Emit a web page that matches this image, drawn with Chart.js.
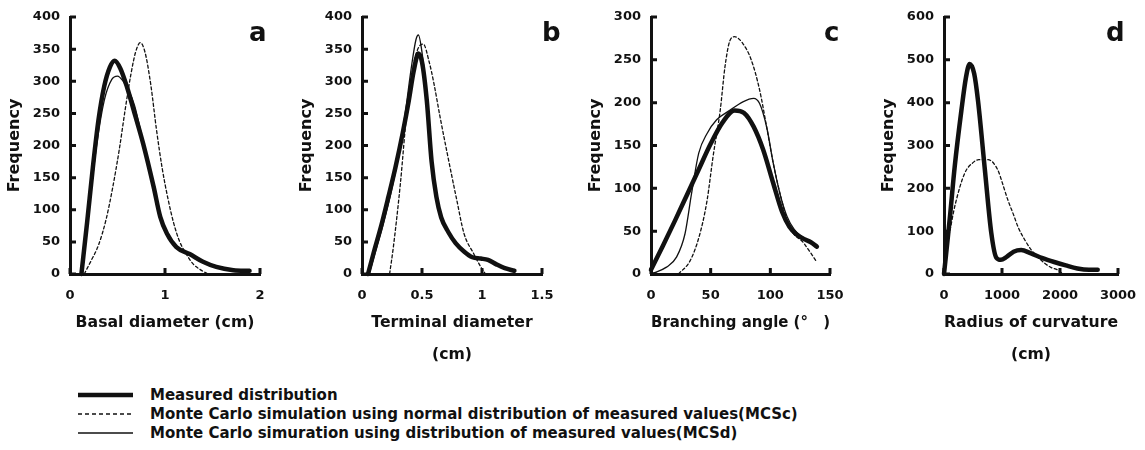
<!DOCTYPE html>
<html>
<head>
<meta charset="utf-8">
<script src="https://cdn.jsdelivr.net/npm/chart.js@4"></script>
<style>
  html, body { margin: 0; padding: 0; background: #fff; }
  #fig { position: relative; width: 1145px; height: 450px; font-family: 'DejaVu Sans', sans-serif; font-weight: bold; color: #111; }
  #fig canvas { position: absolute; top: 0; }
  .tag { position: absolute; top: 19px; font-size: 26px; line-height: 1; }
  .legend { position: absolute; left: 78px; top: 385px; font-size: 15px; }
  .legend div { height: 19px; display: flex; align-items: center; white-space: nowrap; }
  .legend svg { width: 55px; height: 8px; margin-right: 17px; }
</style>
</head>
<body>
<div id="fig">
  <canvas id="panelA" width="280" height="380" style="left:0px"></canvas>
  <canvas id="panelB" width="270" height="380" style="left:292px"></canvas>
  <canvas id="panelC" width="269" height="380" style="left:581px"></canvas>
  <canvas id="panelD" width="264" height="380" style="left:874px"></canvas>

  <div class="tag" style="left:249px">a</div>
  <div class="tag" style="left:542px">b</div>
  <div class="tag" style="left:824px">c</div>
  <div class="tag" style="left:1106px">d</div>

  <div class="legend">
    <div><svg viewBox="0 0 55 8"><line x1="0" y1="4" x2="55" y2="4" stroke="#111" stroke-width="4.5"/></svg>Measured distribution</div>
    <div><svg viewBox="0 0 55 8"><line x1="0" y1="4" x2="55" y2="4" stroke="#111" stroke-width="1.3" stroke-dasharray="4 3"/></svg>Monte Carlo simulation using normal distribution of measured values(MCSc)</div>
    <div><svg viewBox="0 0 55 8"><line x1="0" y1="4" x2="55" y2="4" stroke="#111" stroke-width="1.3"/></svg>Monte Carlo simuration using distribution of measured values(MCSd)</div>
  </div>
</div>

<script>
// frequency curves, [x, frequency]
const basalMeasured = [[0.12,0],[0.18,80],[0.24,165],[0.30,240],[0.36,292],[0.42,322],[0.47,332],[0.53,320],[0.60,291],[0.67,255],[0.77,203],[0.88,136],[0.95,89],[1.02,63],[1.12,42],[1.26,31],[1.40,19],[1.54,11],[1.72,6],[1.89,5]];
const basalMCSc = [[0.15,0],[0.22,20],[0.30,45],[0.38,85],[0.45,135],[0.52,195],[0.58,255],[0.64,310],[0.69,345],[0.74,360],[0.79,345],[0.85,295],[0.91,225],[0.97,165],[1.03,118],[1.09,80],[1.15,52],[1.22,32],[1.30,15],[1.38,6],[1.44,1]];
const basalMCSd = [[0.13,0],[0.20,100],[0.28,200],[0.36,270],[0.44,303],[0.50,308],[0.56,300],[0.62,285],[0.68,262],[0.74,225],[0.82,170],[0.90,120],[0.96,82],[1.03,60],[1.12,42],[1.26,31],[1.40,20],[1.55,12],[1.72,7],[1.89,5]];

const terminalMeasured = [[0.05,0],[0.10,35],[0.16,75],[0.22,120],[0.28,167],[0.34,220],[0.39,270],[0.43,315],[0.47,343],[0.50,330],[0.54,270],[0.58,175],[0.62,120],[0.66,88],[0.72,65],[0.78,48],[0.85,35],[0.92,26],[0.99,24],[1.05,22],[1.12,15],[1.19,9],[1.27,5]];
const terminalMCSc = [[0.23,0],[0.26,40],[0.32,141],[0.375,255],[0.43,327],[0.47,352],[0.51,358],[0.56,330],[0.60,296],[0.65,245],[0.71,188],[0.79,115],[0.85,63],[0.93,32],[0.99,11],[1.03,0]];
const terminalMCSd = [[0.06,0],[0.12,40],[0.18,80],[0.24,125],[0.30,180],[0.36,250],[0.41,320],[0.45,365],[0.47,372],[0.50,345],[0.54,275],[0.58,180],[0.62,122],[0.66,90],[0.72,66],[0.78,48],[0.85,35],[0.92,26],[0.99,24],[1.05,22],[1.12,15],[1.19,9],[1.27,5]];

const angleMeasured = [[0,5],[10,33],[20,62],[30,92],[40,122],[50,152],[60,177],[70,191],[78,188],[86,172],[94,145],[102,108],[110,72],[116,55],[122,46],[128,41],[134,37],[139,32]];
const angleMCSc = [[23,0],[33,16],[41,47],[47,86],[52,137],[58,191],[62,242],[66,272],[70,277],[77,269],[84,250],[91,215],[97,171],[102.5,129],[109.5,86],[116,55],[128,36],[139,14]];
const angleMCSd = [[0,0],[13,8],[21.5,20],[28.5,47],[34,94],[40,141],[47,164],[55,180],[66,191],[77,201],[86,205],[91,199],[97,171],[102.5,129],[108,94],[114,67],[120,52],[126,44],[132,39],[139,33]];

const radiusMeasured = [[0,0],[100,130],[184,250],[300,382],[380,460],[442,490],[520,468],[586,405],[700,250],[816,95],[902,38],[980,33],[1080,40],[1200,52],[1330,56],[1500,48],[1700,37],[1900,28],[2100,20],[2300,13],[2500,10],[2650,10]];
const radiusMCSc = [[0,40],[100,100],[184,157],[356,235],[500,260],[600,267],[759,267],[931,242],[1000,215],[1103,172],[1200,138],[1276,110],[1400,78],[1506,56],[1600,42],[1736,25],[1850,15],[1966,9],[2050,0]];
const radiusMCSd = [[0,0],[100,128],[184,248],[300,380],[380,458],[442,486],[520,466],[586,402],[700,248],[816,94],[902,38],[980,33],[1080,40],[1200,52],[1330,55],[1500,48],[1700,37],[1900,27],[2100,19],[2300,13],[2500,10],[2650,10]];

// axis ranges: [max, step]
const basalX = [2, 1], basalY = [400, 50];
const terminalX = [1.5, 0.5], terminalY = [400, 50];
const angleX = [150, 50], angleY = [300, 50];
const radiusX = [3000, 1000], radiusY = [600, 100];

const INK = '#111';
Chart.defaults.font.family = "'DejaVu Sans', sans-serif";
Chart.defaults.font.weight = 'bold';
Chart.defaults.color = INK;

// short inward tick marks on both axes
const tickMarks = {
  id: 'tickMarks',
  afterDraw(chart) {
    const { ctx, chartArea, scales: { x, y } } = chart;
    ctx.save();
    ctx.strokeStyle = INK;
    ctx.lineWidth = 3;
    ctx.beginPath();
    x.ticks.forEach(t => {
      const px = x.getPixelForValue(t.value);
      ctx.moveTo(px, chartArea.bottom);
      ctx.lineTo(px, chartArea.bottom - 6);
    });
    y.ticks.forEach(t => {
      const py = y.getPixelForValue(t.value);
      ctx.moveTo(chartArea.left, py);
      ctx.lineTo(chartArea.left + 6, py);
    });
    ctx.stroke();
    ctx.restore();
  }
};

function series(data, width, dash) {
  return {
    data,
    borderColor: INK,
    borderWidth: width,
    borderDash: dash || [],
    borderCapStyle: 'round',
    borderJoinStyle: 'round',
    pointRadius: 0,
    cubicInterpolationMode: 'monotone',
    fill: false,
    clip: false,
  };
}

function panel(id, cfg) {
  const canvas = document.getElementById(id);
  const boxHeight = Array.isArray(cfg.xTitle) ? 97 : 65;
  return new Chart(canvas, {
    type: 'line',
    data: {
      datasets: [
        series(cfg.mcsd, 1.3),
        series(cfg.mcsc, 1.3, [3, 2.5]),
        series(cfg.measured, 4.5),
      ],
    },
    options: {
      responsive: false,
      animation: false,
      devicePixelRatio: 1,
      layout: { padding: { top: 17, right: 20, left: 0, bottom: canvas.height - 274 - boxHeight } },
      plugins: { legend: { display: false }, tooltip: { enabled: false } },
      scales: {
        x: {
          type: 'linear',
          min: 0,
          max: cfg.x[0],
          ticks: { stepSize: cfg.x[1], padding: 14, font: { size: 13 }, callback: v => String(v), maxRotation: 0 },
          grid: { display: false, drawTicks: false },
          border: { display: true, width: 3, color: INK },
          title: { display: true, text: cfg.xTitle, padding: 0, font: { size: 15.7, lineHeight: 2.04 } },
          afterFit: s => { s.height = boxHeight; s.paddingLeft = 0; s.paddingRight = 0; },
        },
        y: {
          min: 0,
          max: cfg.y[0],
          ticks: { stepSize: cfg.y[1], padding: 10, font: { size: 13 }, callback: v => String(v) },
          grid: { display: false, drawTicks: false },
          border: { display: true, width: 3, color: INK },
          title: { display: true, text: 'Frequency', padding: { top: 5, bottom: 0 }, font: { size: 16 } },
          afterFit: s => { s.width = 70; s.paddingTop = 0; s.paddingBottom = 0; },
        },
      },
    },
    plugins: [tickMarks],
  });
}

panel('panelA', { measured: basalMeasured, mcsc: basalMCSc, mcsd: basalMCSd, x: basalX, y: basalY, xTitle: 'Basal diameter (cm)' });
panel('panelB', { measured: terminalMeasured, mcsc: terminalMCSc, mcsd: terminalMCSd, x: terminalX, y: terminalY, xTitle: ['Terminal diameter', '(cm)'] });
panel('panelC', { measured: angleMeasured, mcsc: angleMCSc, mcsd: angleMCSd, x: angleX, y: angleY, xTitle: 'Branching angle (°\u3000)' });
panel('panelD', { measured: radiusMeasured, mcsc: radiusMCSc, mcsd: radiusMCSd, x: radiusX, y: radiusY, xTitle: ['Radius of curvature', '(cm)'] });
</script>
</body>
</html>
